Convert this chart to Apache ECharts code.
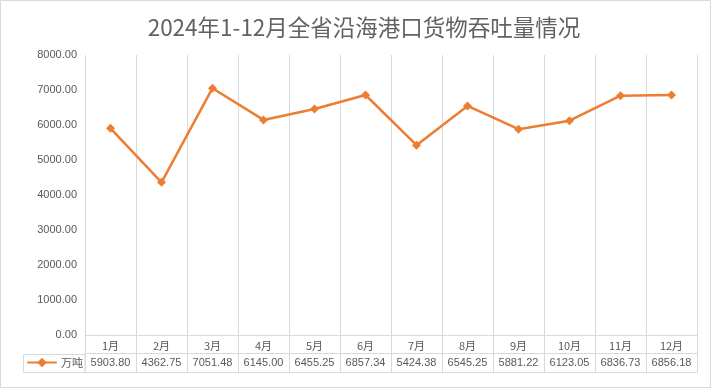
<!DOCTYPE html>
<html>
<head>
<meta charset="utf-8">
<script src="https://cdn.jsdelivr.net/npm/echarts@6/dist/echarts.min.js"></script>
<style>
html,body{margin:0;padding:0;background:#fff;}
#chart{width:712px;height:389px;}
</style>
</head>
<body>
<div id="chart"></div>
<script>
const titleText = '2024年1-12月全省沿海港口货物吞吐量情况';
const seriesName = '万吨';
const categories = ['1月','2月','3月','4月','5月','6月','7月','8月','9月','10月','11月','12月'];
const values = [5903.80, 4362.75, 7051.48, 6145.00, 6455.25, 6857.34, 5424.38, 6545.25, 5881.22, 6123.05, 6836.73, 6856.18];
const yTicks = {min: 0, max: 8000, interval: 1000};

const gridColor = '#d9d9d9';
const textColor = '#595959';
const numFont = 'Liberation Sans, Arial, sans-serif';
const cjkFont = '"Noto Sans CJK SC", sans-serif';

const chart = echarts.init(document.getElementById('chart'), null, {renderer: 'canvas'});
chart.setOption({
  animation: false,
  backgroundColor: '#fff',
  title: {
    text: titleText,
    left: 359,
    textAlign: 'center',
    top: 11,
    textStyle: {fontFamily: cjkFont, fontSize: 22.5, fontWeight: 'normal', color: '#626262'}
  },
  legend: {
    left: 27,
    top: 357,
    padding: 0,
    itemWidth: 28,
    itemHeight: 12,
    itemGap: 5,
    textStyle: {fontFamily: cjkFont, fontSize: 11, color: textColor},
    data: [seriesName]
  },
  grid: [
    {left: 85, right: 15, top: 55, bottom: 54},
    {left: 85, right: 15, top: 335, height: 37}
  ],
  xAxis: [
    {
      type: 'category', gridIndex: 0, data: categories, boundaryGap: true,
      axisLine: {show: true, lineStyle: {color: gridColor}},
      axisTick: {show: false}, axisLabel: {show: false},
      splitLine: {show: true, showMinLine: true, showMaxLine: true, lineStyle: {color: gridColor, width: 1}}
    },
    {
      type: 'category', gridIndex: 1, data: categories, boundaryGap: true, position: 'top',
      axisLine: {show: true, lineStyle: {color: gridColor}},
      axisTick: {show: false},
      axisLabel: {show: true, inside: true, margin: 5, interval: 0, color: textColor, fontFamily: cjkFont, fontSize: 11},
      splitLine: {show: true, showMinLine: true, showMaxLine: true, lineStyle: {color: gridColor, width: 1}}
    },
    {
      type: 'category', gridIndex: 1, data: values.map(v => v.toFixed(2)), boundaryGap: true, position: 'bottom',
      axisLine: {show: false},
      axisTick: {show: false},
      axisLabel: {show: true, inside: true, margin: 4, interval: 0, color: textColor, fontFamily: numFont, fontSize: 11},
      splitLine: {show: false}
    }
  ],
  yAxis: [
    {
      type: 'value', gridIndex: 0, min: yTicks.min, max: yTicks.max, interval: yTicks.interval,
      axisLine: {show: false}, axisTick: {show: false},
      axisLabel: {color: textColor, fontFamily: numFont, fontSize: 11, margin: 8, formatter: v => v.toFixed(2)},
      splitLine: {show: false}
    },
    {
      type: 'value', gridIndex: 1, min: 0, max: 2, interval: 1,
      axisLine: {show: false}, axisTick: {show: false}, axisLabel: {show: false},
      splitLine: {show: true, lineStyle: {color: gridColor, width: 1}}
    }
  ],
  series: [{
    name: seriesName,
    type: 'line',
    xAxisIndex: 0, yAxisIndex: 0,
    data: values,
    symbol: 'diamond',
    symbolSize: 9,
    showSymbol: true,
    itemStyle: {color: '#ED7D31'},
    lineStyle: {color: '#ED7D31', width: 2.5, join: 'round', cap: 'round'}
  }],
  graphic: [
    {type: 'rect', shape: {x: 0.5, y: 0.5, width: 710, height: 387}, style: {fill: 'none', stroke: gridColor, lineWidth: 1}, silent: true, z: -1},
    {type: 'rect', shape: {x: 23.5, y: 354.5, width: 61.5, height: 18}, style: {fill: 'none', stroke: gridColor, lineWidth: 1}, silent: true}
  ]
});
</script>
</body>
</html>
